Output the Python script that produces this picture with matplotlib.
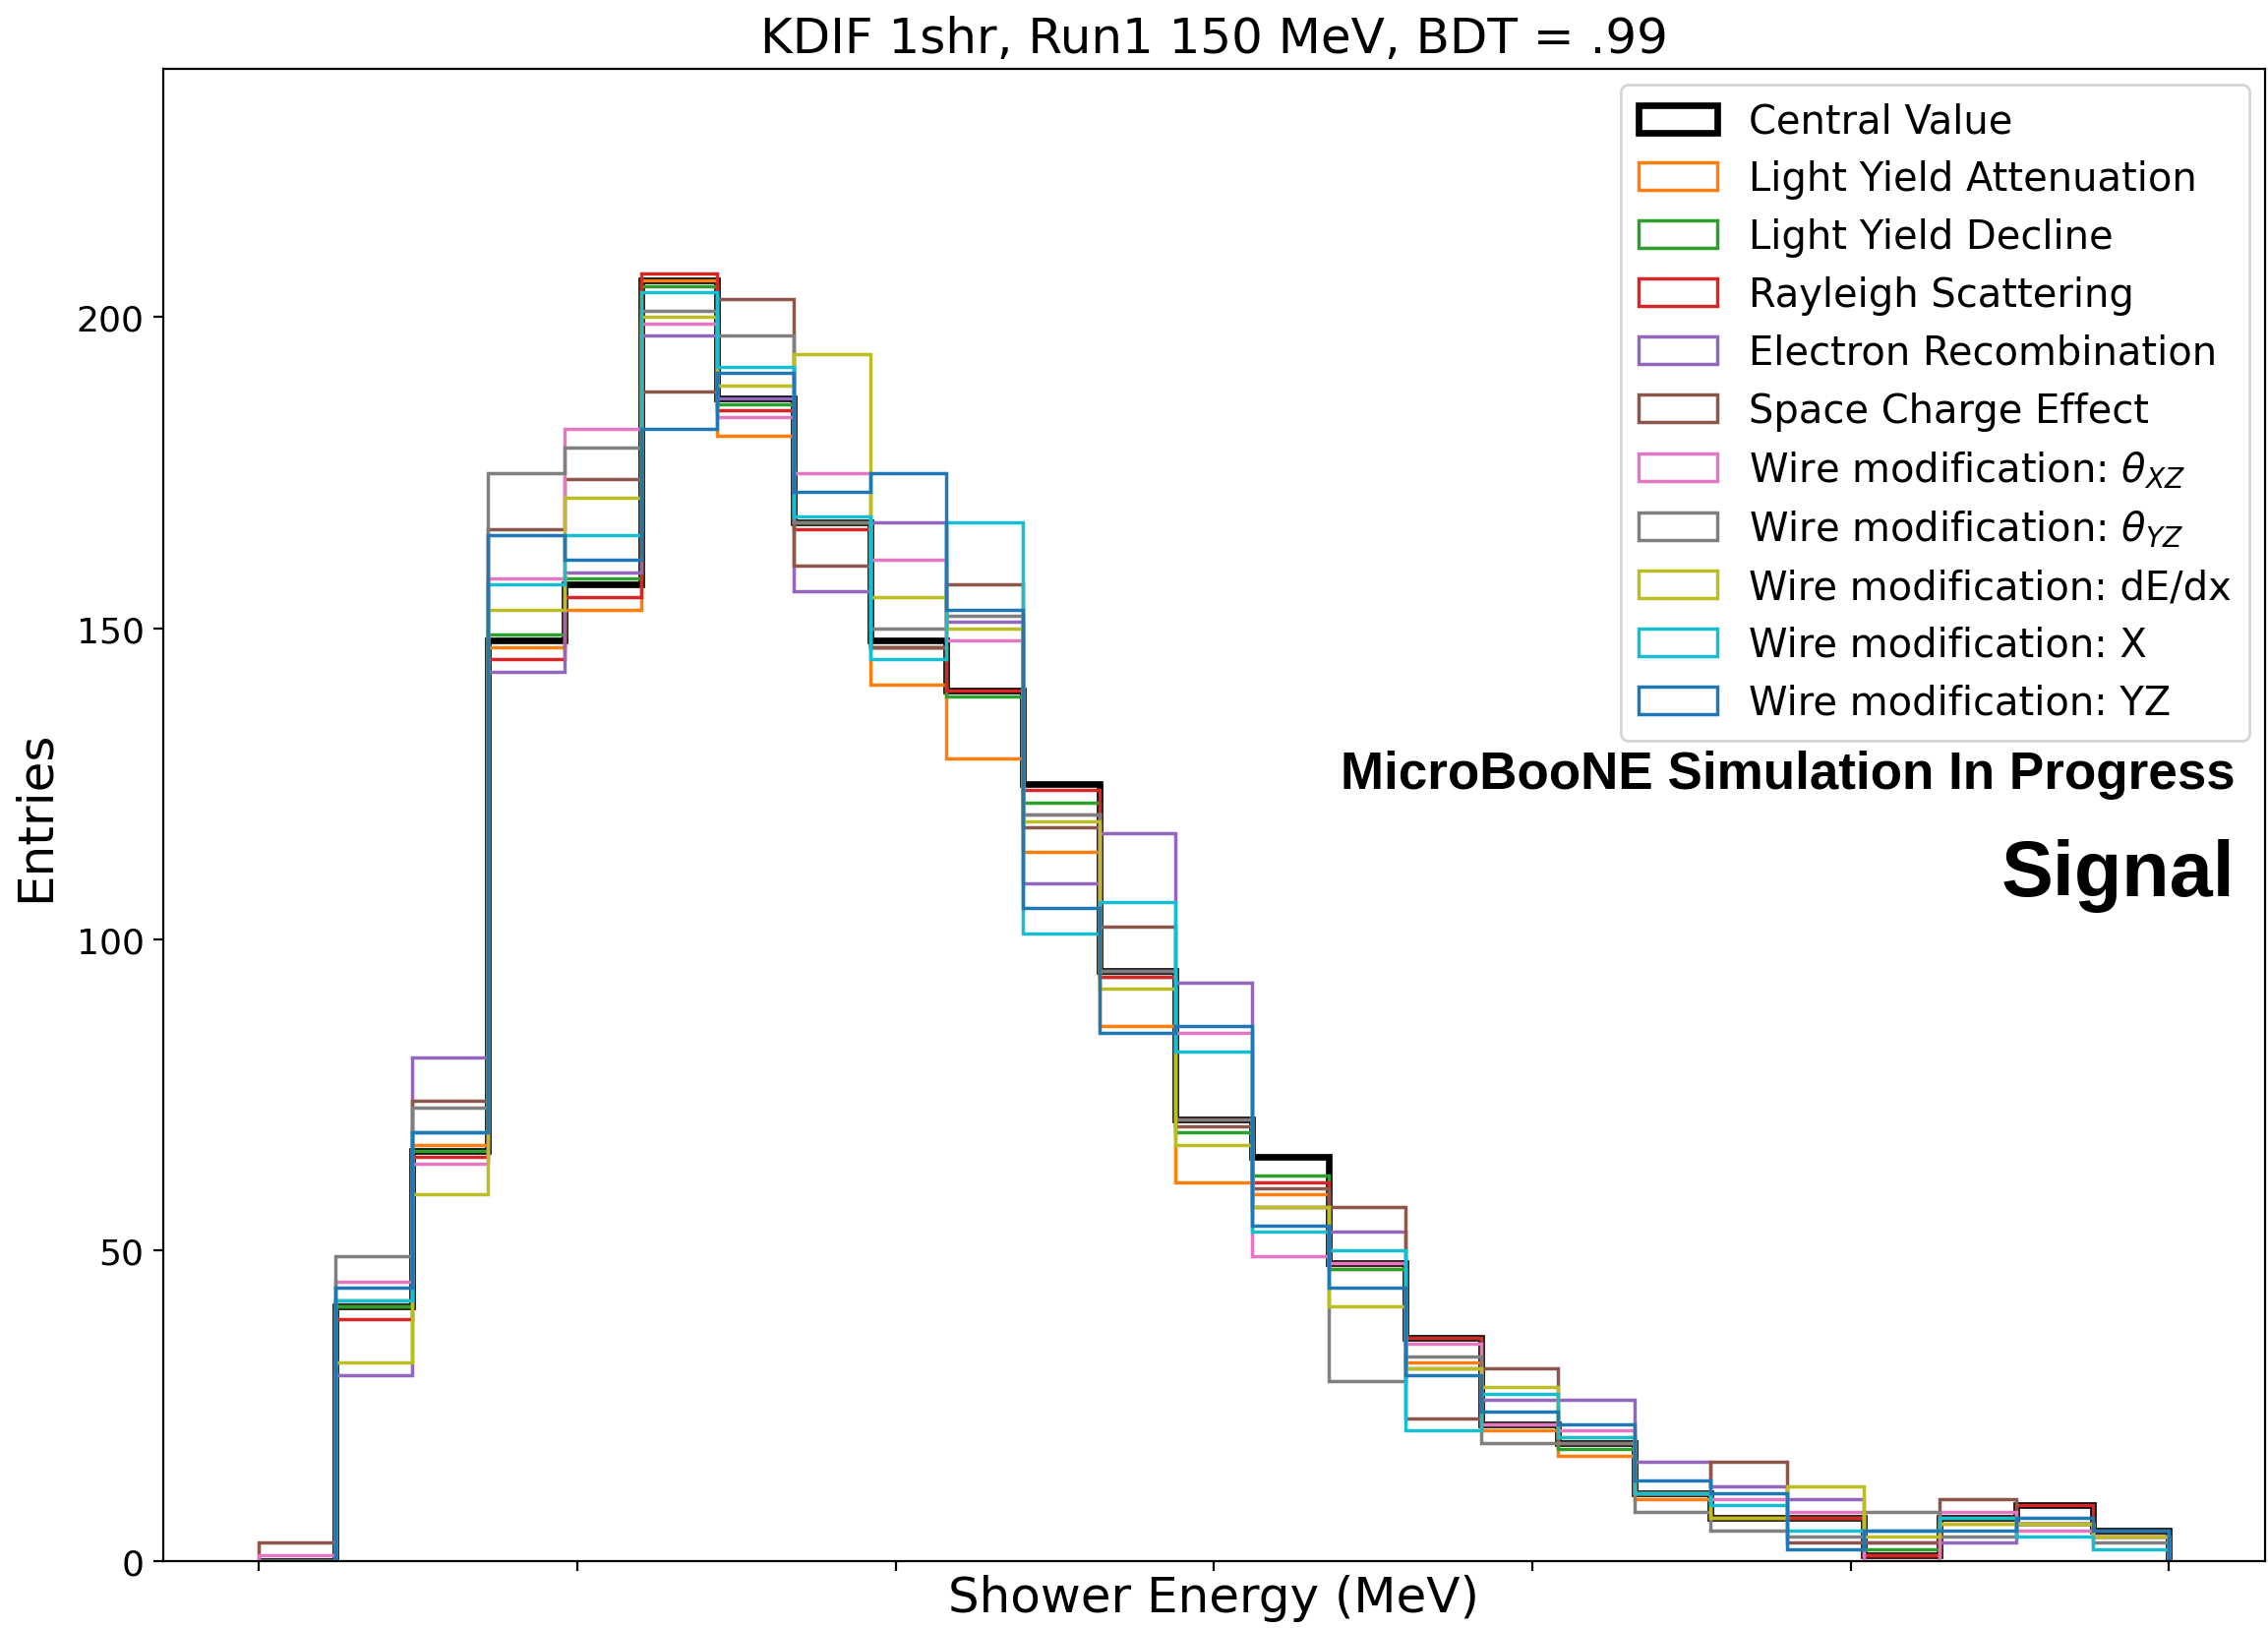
import numpy as np
import matplotlib
matplotlib.use("Agg")
import matplotlib.pyplot as plt

# 25 bins of shower energy, x tick labels are not shown in the original
edges = np.linspace(0, 600, 26)

central = [0, 41, 66, 148, 157, 206, 187, 167, 148, 140, 125, 95, 71, 65, 48, 36, 22, 19, 11, 7, 7, 1, 7, 9, 5]

ly_atten = [0, 41, 67, 147, 153, 206, 181, 167, 141, 129, 114, 86, 61, 59, 47, 32, 21, 17, 10, 7, 7, 1, 6, 6, 4]
ly_decline = [0, 41, 66, 149, 158, 205, 186, 167, 147, 139, 122, 94, 69, 62, 47, 36, 22, 18, 11, 7, 7, 2, 7, 6, 5]
rayleigh = [0, 39, 65, 145, 155, 207, 185, 166, 147, 140, 124, 94, 71, 61, 48, 36, 22, 19, 11, 7, 7, 1, 7, 9, 5]
recomb = [0, 30, 81, 143, 159, 197, 187, 156, 167, 151, 109, 117, 93, 57, 53, 31, 26, 26, 16, 12, 10, 3, 3, 6, 4]
sce = [3, 42, 74, 166, 174, 188, 203, 160, 147, 157, 118, 102, 70, 60, 57, 23, 31, 19, 11, 16, 3, 3, 10, 6, 4]
wm_thxz = [1, 45, 64, 158, 182, 199, 184, 175, 161, 148, 120, 95, 85, 49, 48, 35, 22, 21, 11, 10, 8, 0, 8, 5, 4]
wm_thyz = [0, 49, 73, 175, 179, 201, 197, 167, 150, 152, 120, 95, 71, 57, 29, 33, 19, 19, 8, 5, 4, 8, 4, 6, 3]
wm_dedx = [0, 32, 59, 153, 171, 200, 189, 194, 155, 150, 119, 92, 67, 57, 41, 31, 28, 20, 11, 7, 12, 4, 6, 6, 4]
wm_x = [0, 42, 69, 157, 165, 204, 192, 168, 145, 167, 101, 106, 82, 53, 50, 21, 27, 20, 11, 9, 5, 5, 7, 4, 2]
wm_yz = [0, 44, 69, 165, 161, 182, 191, 172, 175, 153, 105, 85, 86, 54, 44, 30, 24, 22, 13, 11, 2, 5, 5, 7, 5]

variations = [ly_atten, ly_decline, rayleigh, recomb, sce,
              wm_thxz, wm_thyz, wm_dedx, wm_x, wm_yz]
labels = ["Light Yield Attenuation", "Light Yield Decline", "Rayleigh Scattering",
          "Electron Recombination", "Space Charge Effect",
          r"Wire modification: $\theta_{XZ}$", r"Wire modification: $\theta_{YZ}$",
          "Wire modification: dE/dx", "Wire modification: X", "Wire modification: YZ"]
colors = ["C1", "C2", "C3", "C4", "C5", "C6", "C7", "C8", "C9", "C0"]

centers = 0.5 * (edges[1:] + edges[:-1])

fig = plt.figure(figsize=(11.53, 8.28), dpi=200)
ax = fig.add_axes([0.072, 0.0409, 0.9265, 0.9165])

# central value first so the variations sit on top of it
ax.hist(centers, bins=edges, weights=central, histtype="step",
        color="black", lw=2.4, label="Central Value")
for vals, lab, col in zip(variations, labels, colors):
    ax.hist(centers, bins=edges, weights=vals, histtype="step",
            color=col, lw=1.25, label=lab)

ax.set_ylim(0, 240)
ax.set_xticks(np.arange(0, 601, 100))
ax.tick_params(axis="x", labelbottom=False)
ax.tick_params(axis="y", labelsize=13)

ax.set_xlabel("Shower Energy (MeV)", fontsize=18, labelpad=1)
ax.set_ylabel("Entries", fontsize=18, labelpad=6.5)
ax.set_title("KDIF 1shr, Run1 150 MeV, BDT = .99", fontsize=18)

ax.legend(loc="upper right", fontsize=14.4, labelspacing=0.47,
          borderpad=0.45, borderaxespad=0.4)

ax.text(0.986, 0.518, "MicroBooNE Simulation In Progress", transform=ax.transAxes,
        ha="right", va="baseline", fontsize=19.1, fontweight="bold",
        family="Liberation Sans")
ax.text(0.986, 0.446, "Signal", transform=ax.transAxes,
        ha="right", va="baseline", fontsize=28.5, fontweight="bold",
        family="Liberation Sans")

fig.savefig("out.png", dpi=200)
